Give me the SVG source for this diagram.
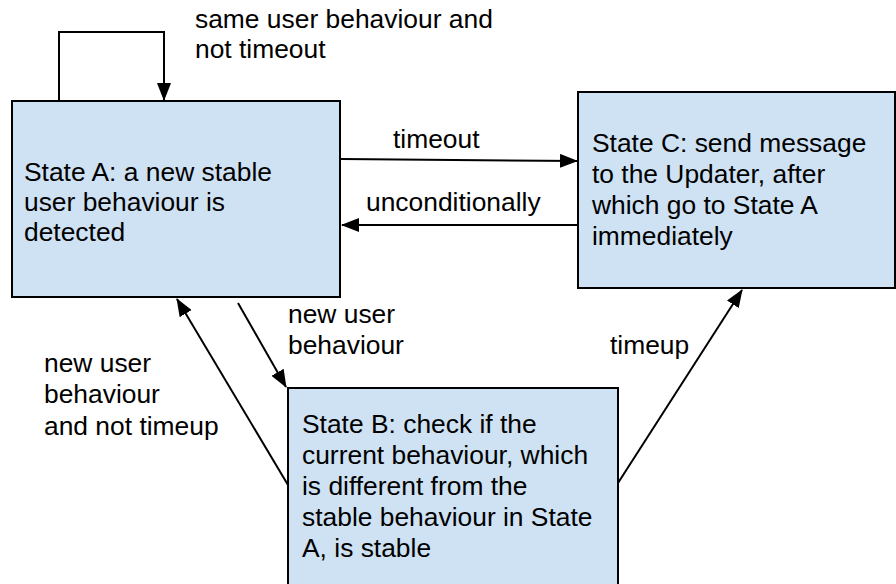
<svg xmlns="http://www.w3.org/2000/svg" width="896" height="584" viewBox="0 0 896 584">
<style>
.box{fill:#cfe2f3;stroke:#000;stroke-width:2}
.t{font-family:"Liberation Sans",Arial,sans-serif;font-size:26.4px;fill:#000}
.c{fill:none;stroke:#000;stroke-width:2}
</style>
<defs>
<marker id="ah" markerUnits="userSpaceOnUse" markerWidth="18" markerHeight="14" refX="17" refY="7" orient="auto">
<path d="M0,0 L18,7 L0,14 z" fill="#000"/>
</marker>
</defs>
<rect width="896" height="584" fill="#fff"/>
<g id="stateA">
<rect class="box" x="12" y="101" width="328" height="196"/>
<text class="t" x="24" y="181">State A: a new stable</text>
<text class="t" x="24" y="211">user behaviour is</text>
<text class="t" x="24" y="241">detected</text>
</g>
<g id="stateC">
<rect class="box" x="578" y="92" width="317" height="196"/>
<text class="t" x="592" y="152">State C: send message</text>
<text class="t" x="592" y="183">to the Updater, after</text>
<text class="t" x="592" y="214">which go to State A</text>
<text class="t" x="592" y="245">immediately</text>
</g>
<g id="stateB">
<rect class="box" x="288" y="388" width="330" height="210"/>
<text class="t" x="302" y="433">State B: check if the</text>
<text class="t" x="302" y="464">current behaviour, which</text>
<text class="t" x="302" y="495">is different from the</text>
<text class="t" x="302" y="526">stable behaviour in State</text>
<text class="t" x="302" y="557">A, is stable</text>
</g>
<g id="connectors">
<path class="c" d="M59,100 V32 H164 V100" marker-end="url(#ah)"/>
<path class="c" d="M341,159 L577,161" marker-end="url(#ah)"/>
<path class="c" d="M577,225 L342,225" marker-end="url(#ah)"/>
<path class="c" d="M238,303 L286,387" marker-end="url(#ah)"/>
<path class="c" d="M288,485 L177,299" marker-end="url(#ah)"/>
<path class="c" d="M618,483 L742,290" marker-end="url(#ah)"/>
</g>
<g id="labels">
<text class="t" x="195" y="28">same user behaviour and</text>
<text class="t" x="195" y="58">not timeout</text>
<text class="t" x="393" y="148">timeout</text>
<text class="t" x="366" y="211">unconditionally</text>
<text class="t" x="288" y="323">new user</text>
<text class="t" x="288" y="354">behaviour</text>
<text class="t" x="610" y="354">timeup</text>
<text class="t" x="44" y="372">new user</text>
<text class="t" x="44" y="403">behaviour</text>
<text class="t" x="44" y="435">and not timeup</text>
</g>
</svg>
